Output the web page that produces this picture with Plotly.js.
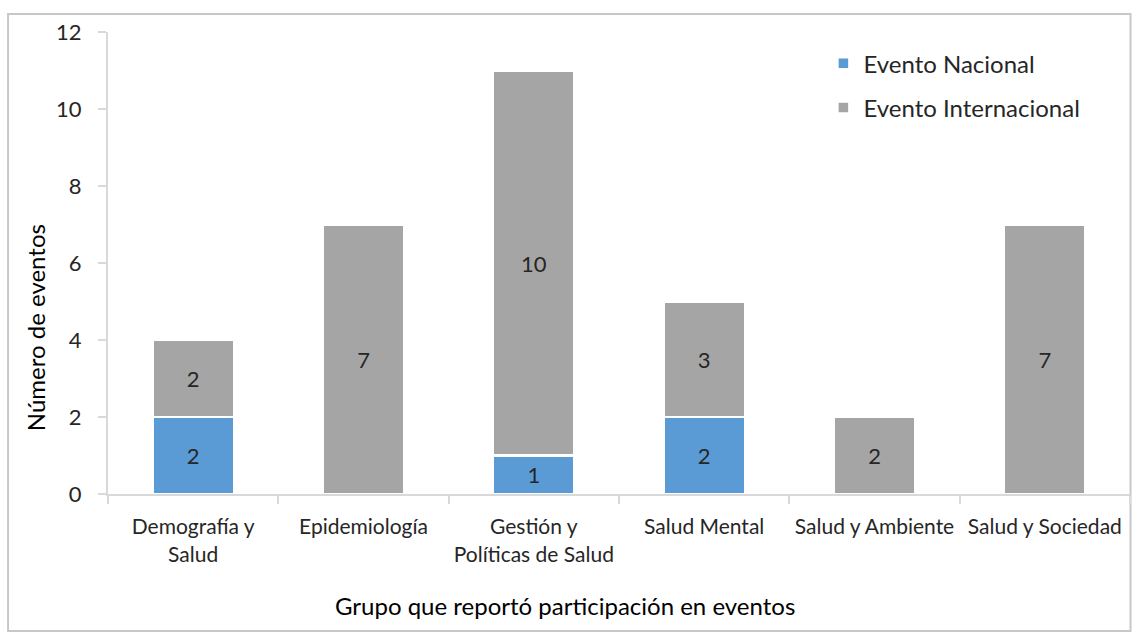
<!DOCTYPE html>
<html><head><meta charset="utf-8">
<script src="https://cdn.plot.ly/plotly-3.0.1.min.js"></script>
<style>html,body{margin:0;padding:0;background:#fff}#c{width:1132px;height:632px}</style>
</head><body><div id="c"></div>
<script>
const categories = ["Demografía y<br>Salud","Epidemiología","Gestión y<br>Políticas de Salud","Salud Mental","Salud y Ambiente","Salud y Sociedad"];
const nacional = [2, null, 1, 2, null, null];
const internacional = [2, 7, 10, 3, 2, 7];
const yTicks = [0, 2, 4, 6, 8, 10, 12];
const xTitle = "Grupo que reportó participación en eventos";
const yTitle = "Número de eventos";
const FONT = "Lato, 'Open Sans', sans-serif";

const traces = [
  {type:"bar", name:"Evento Nacional", x:categories, y:nacional, legendgroup:"a",
   marker:{color:"#5B9BD5", line:{color:"#fff", width:2.5}},
   text:nacional.map(v=>v==null?"":String(v)), textposition:"inside", insidetextanchor:"middle",
   textfont:{family:FONT, size:22, color:"#262626"}, hoverinfo:"none"},
  {type:"bar", name:"Evento Internacional", x:categories, y:internacional, legendgroup:"b",
   marker:{color:"#A5A5A5", line:{color:"#fff", width:2.5}},
   text:internacional.map(String), textposition:"inside", insidetextanchor:"middle",
   textfont:{family:FONT, size:22, color:"#262626"}, hoverinfo:"none"}
];

const layout = {
  width:1132, height:632, paper_bgcolor:"#fff", plot_bgcolor:"#fff",
  margin:{l:108, r:2, t:32, b:138},
  barmode:"stack", bargap:0.52,
  font:{family:FONT, color:"#262626"},
  showlegend:true,
  legend:{x:0.70, y:0.98, xanchor:"left", yanchor:"top", traceorder:"grouped", tracegroupgap:10,
          font:{family:FONT, size:24, color:"#262626"}, bgcolor:"rgba(0,0,0,0)"},
  xaxis:{type:"category", showline:true, linecolor:"#d9d9d9", linewidth:2, ticks:"outside",
         tickson:"boundaries", ticklen:8, tickcolor:"#d9d9d9", tickwidth:2, showgrid:false,
         tickangle:0, ticklabelstandoff:13,
         tickfont:{family:FONT, size:21, color:"#262626"}},
  yaxis:{range:[0,12], tickvals:yTicks, ticktext:yTicks.map(String), showline:true, linecolor:"#d9d9d9", linewidth:2,
         ticks:"outside", ticklen:8, tickcolor:"#d9d9d9", tickwidth:2, showgrid:false, zeroline:false,
         ticklabelstandoff:12,
         tickfont:{family:FONT, size:22, color:"#262626"}},
  annotations:[
    {text:xTitle, xref:"paper", yref:"paper", x:0.447, y:-0.2424, xanchor:"center", yanchor:"middle",
     showarrow:false, font:{family:FONT, size:24, color:"#000"}},
    {text:yTitle, xref:"paper", yref:"paper", x:-0.0714, y:0.359, xanchor:"center", yanchor:"middle",
     textangle:-90, showarrow:false, font:{family:FONT, size:24, color:"#000"}}
  ],
  shapes:[{type:"rect", xref:"paper", yref:"paper", x0:-0.0978, x1:1.0005, y0:-0.2965, y1:1.039,
           line:{color:"#c8c8c8", width:2}, fillcolor:"rgba(0,0,0,0)", layer:"below"}]
};
Plotly.newPlot("c", traces, layout, {staticPlot:true});
</script></body></html>
